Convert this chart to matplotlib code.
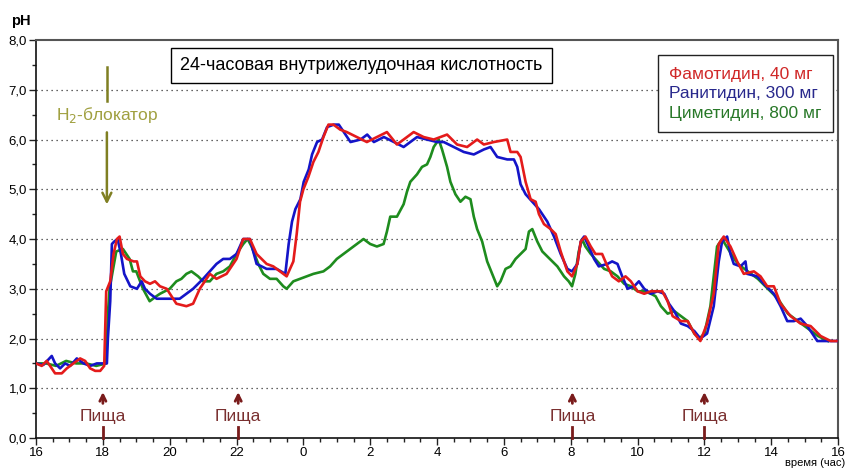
import matplotlib
matplotlib.use("Agg")
import matplotlib.pyplot as plt
import numpy as np

plt.rcParams['font.family'] = ['Liberation Sans', 'DejaVu Sans']

# hours since 16:00, pH
famotidine = np.array([
    (0.0, 1.5), (0.17, 1.45), (0.32, 1.55), (0.42, 1.45), (0.57, 1.3), (0.77, 1.3),
    (0.92, 1.4), (1.12, 1.5), (1.32, 1.6), (1.47, 1.55), (1.62, 1.4), (1.77, 1.35),
    (1.92, 1.35), (2.04, 1.45), (2.1, 2.95), (2.22, 3.15), (2.32, 3.7), (2.42, 4.0),
    (2.5, 4.05), (2.6, 3.7), (2.72, 3.6), (2.92, 3.55), (3.02, 3.55), (3.12, 3.25),
    (3.26, 3.15), (3.41, 3.1), (3.56, 3.15), (3.71, 3.05), (3.91, 3.0), (4.2, 2.7),
    (4.5, 2.65), (4.7, 2.7), (4.9, 3.0), (5.2, 3.3), (5.4, 3.2), (5.7, 3.3),
    (6.0, 3.6), (6.2, 4.0), (6.4, 4.0), (6.6, 3.7), (6.9, 3.5), (7.1, 3.45),
    (7.3, 3.35), (7.5, 3.25), (7.7, 3.55), (7.8, 4.1), (7.9, 4.75), (8.0, 5.0),
    (8.15, 5.25), (8.3, 5.55), (8.45, 5.75), (8.6, 6.05), (8.75, 6.3), (8.9, 6.3),
    (9.1, 6.2), (9.3, 6.15), (9.6, 6.05), (9.9, 5.95), (10.2, 6.05), (10.5, 6.15),
    (10.8, 5.9), (11.1, 6.05), (11.3, 6.15), (11.6, 6.05), (11.9, 6.0), (12.3, 6.1),
    (12.6, 5.9), (12.9, 5.85), (13.2, 6.0), (13.4, 5.9), (13.7, 5.95), (14.1, 6.0),
    (14.2, 5.75), (14.4, 5.75), (14.5, 5.65), (14.65, 5.15), (14.8, 4.8), (14.95, 4.75),
    (15.05, 4.5), (15.2, 4.3), (15.4, 4.2), (15.55, 4.1), (15.7, 3.75), (15.9, 3.35),
    (16.04, 3.25), (16.2, 3.5), (16.3, 3.95), (16.44, 4.05), (16.6, 3.85), (16.74, 3.7),
    (16.94, 3.7), (17.1, 3.45), (17.24, 3.25), (17.44, 3.15), (17.64, 3.25), (17.8, 3.15),
    (18.0, 2.95), (18.2, 2.9), (18.4, 2.95), (18.6, 2.95), (18.74, 2.95), (18.9, 2.75),
    (19.05, 2.45), (19.3, 2.35), (19.5, 2.35), (19.7, 2.1), (19.88, 1.95), (20.08, 2.3),
    (20.28, 2.9), (20.43, 3.9), (20.58, 4.05), (20.78, 3.85), (20.98, 3.55), (21.18, 3.3),
    (21.48, 3.35), (21.68, 3.25), (21.88, 3.05), (22.08, 3.05), (22.28, 2.7), (22.58, 2.45),
    (22.88, 2.3), (23.18, 2.25), (23.48, 2.05), (23.78, 1.95), (23.95, 1.95),
])

ranitidine = np.array([
    (0.0, 1.5), (0.22, 1.47), (0.47, 1.65), (0.57, 1.5), (0.72, 1.4), (0.87, 1.5),
    (1.02, 1.45), (1.22, 1.6), (1.42, 1.5), (1.62, 1.45), (1.82, 1.5), (2.12, 1.5),
    (2.15, 2.0), (2.22, 2.75), (2.27, 3.9), (2.34, 3.95), (2.44, 4.0), (2.54, 3.7),
    (2.64, 3.3), (2.82, 3.05), (3.02, 3.0), (3.16, 3.15), (3.26, 3.0), (3.41, 2.9),
    (3.61, 2.8), (3.91, 2.8), (4.3, 2.8), (4.5, 2.9), (4.7, 3.0), (5.0, 3.2),
    (5.4, 3.5), (5.6, 3.6), (5.8, 3.6), (6.0, 3.7), (6.2, 4.0), (6.4, 4.0),
    (6.6, 3.5), (6.9, 3.4), (7.2, 3.4), (7.46, 3.3), (7.56, 3.9), (7.66, 4.35),
    (7.76, 4.6), (7.91, 4.8), (8.01, 5.15), (8.16, 5.4), (8.26, 5.7), (8.41, 5.95),
    (8.56, 6.0), (8.71, 6.25), (8.91, 6.3), (9.06, 6.3), (9.21, 6.15), (9.41, 5.95),
    (9.71, 6.0), (9.91, 6.1), (10.11, 5.95), (10.41, 6.05), (10.71, 5.95), (11.0, 5.85),
    (11.2, 5.95), (11.4, 6.05), (11.7, 6.0), (12.0, 5.95), (12.2, 5.95), (12.5, 5.85),
    (12.8, 5.75), (13.1, 5.7), (13.4, 5.8), (13.6, 5.85), (13.8, 5.65), (14.1, 5.6),
    (14.3, 5.6), (14.4, 5.45), (14.5, 5.1), (14.65, 4.9), (14.85, 4.75), (15.05, 4.6),
    (15.3, 4.35), (15.5, 4.05), (15.7, 3.7), (15.9, 3.4), (16.04, 3.35), (16.2, 3.5),
    (16.3, 3.95), (16.4, 4.05), (16.54, 3.85), (16.7, 3.6), (16.84, 3.45), (17.1, 3.5),
    (17.24, 3.55), (17.4, 3.5), (17.54, 3.25), (17.7, 3.0), (17.9, 3.05), (18.04, 3.15),
    (18.2, 3.0), (18.4, 2.9), (18.6, 2.95), (18.8, 2.9), (18.94, 2.7), (19.1, 2.55),
    (19.3, 2.3), (19.5, 2.25), (19.7, 2.15), (19.88, 2.0), (20.08, 2.1), (20.28, 2.65),
    (20.43, 3.55), (20.53, 3.95), (20.68, 4.05), (20.78, 3.7), (20.88, 3.5), (21.08, 3.45),
    (21.23, 3.55), (21.28, 3.3), (21.58, 3.25), (21.78, 3.1), (22.08, 2.9), (22.28, 2.65),
    (22.48, 2.35), (22.68, 2.35), (22.88, 2.4), (23.08, 2.25), (23.38, 1.95), (23.68, 1.95),
    (23.98, 1.95),
])

cimetidine = np.array([
    (0.0, 1.5), (0.3, 1.5), (0.6, 1.45), (0.9, 1.55), (1.2, 1.5), (1.5, 1.5),
    (1.8, 1.45), (2.1, 1.5), (2.15, 2.5), (2.2, 3.0), (2.4, 3.75), (2.6, 3.8),
    (2.8, 3.6), (2.9, 3.35), (3.0, 3.35), (3.2, 3.0), (3.4, 2.75), (3.6, 2.85),
    (3.71, 2.9), (4.0, 3.0), (4.2, 3.15), (4.35, 3.2), (4.5, 3.3), (4.65, 3.35),
    (4.85, 3.25), (5.0, 3.15), (5.2, 3.15), (5.4, 3.3), (5.6, 3.35), (5.8, 3.45),
    (6.0, 3.7), (6.2, 3.9), (6.33, 4.0), (6.45, 3.85), (6.65, 3.5), (6.8, 3.3),
    (7.0, 3.2), (7.2, 3.2), (7.4, 3.05), (7.5, 3.0), (7.7, 3.15), (7.9, 3.2),
    (8.1, 3.25), (8.3, 3.3), (8.6, 3.35), (8.8, 3.45), (9.0, 3.6), (9.2, 3.7),
    (9.4, 3.8), (9.6, 3.9), (9.8, 4.0), (10.0, 3.9), (10.2, 3.85), (10.4, 3.9),
    (10.5, 4.15), (10.6, 4.45), (10.8, 4.45), (11.0, 4.7), (11.1, 4.95), (11.2, 5.15),
    (11.4, 5.3), (11.55, 5.45), (11.7, 5.5), (11.8, 5.65), (11.9, 5.85), (12.05, 6.0),
    (12.15, 5.8), (12.3, 5.45), (12.4, 5.15), (12.55, 4.9), (12.7, 4.75), (12.85, 4.85),
    (13.0, 4.8), (13.1, 4.45), (13.2, 4.2), (13.35, 3.95), (13.5, 3.55), (13.65, 3.3),
    (13.8, 3.05), (13.9, 3.15), (14.05, 3.4), (14.2, 3.45), (14.35, 3.6), (14.5, 3.7),
    (14.65, 3.8), (14.75, 4.15), (14.85, 4.2), (15.0, 3.95), (15.15, 3.75), (15.3, 3.65),
    (15.6, 3.45), (15.8, 3.25), (15.94, 3.15), (16.04, 3.05), (16.14, 3.3), (16.24, 3.75),
    (16.34, 4.0), (16.44, 3.85), (16.6, 3.7), (16.8, 3.55), (17.0, 3.4), (17.2, 3.35),
    (17.4, 3.25), (17.6, 3.1), (17.8, 3.05), (18.0, 2.95), (18.2, 2.95), (18.4, 2.9),
    (18.54, 2.85), (18.7, 2.65), (18.9, 2.5), (19.1, 2.55), (19.3, 2.45), (19.5, 2.35),
    (19.7, 2.1), (19.85, 2.0), (20.0, 2.1), (20.18, 2.65), (20.38, 3.85), (20.53, 4.0),
    (20.8, 3.7), (21.0, 3.5), (21.3, 3.35), (21.6, 3.2), (21.9, 3.0), (22.2, 2.8),
    (22.5, 2.5), (22.8, 2.35), (23.1, 2.2), (23.4, 2.05), (23.7, 1.95),
])

hour_ticks = np.arange(0, 25, 2)
hour_labels = ['16', '18', '20', '22', '0', '2', '4', '6', '8', '10', '12', '14', '16']
ph_ticks = np.arange(0, 9, 1)
ph_labels = ['0,0', '1,0', '2,0', '3,0', '4,0', '5,0', '6,0', '7,0', '8,0']
meal_times = [2.0, 6.05, 16.05, 20.0]   # 18, 22, 8, 12 h
blocker_time = 2.12

series_labels = ['Фамотидин, 40 мг', 'Ранитидин, 300 мг', 'Циметидин, 800 мг']
line_colors = ['#e41b1b', '#1414c8', '#1e8c1e']
text_colors = ['#d02828', '#28288c', '#287828']

fig = plt.figure(figsize=(8.46, 4.71), dpi=100)
ax = fig.add_axes([0.0426, 0.070, 0.948, 0.845])

l_cim, = ax.plot(cimetidine[:, 0], cimetidine[:, 1], color=line_colors[2], lw=1.9, zorder=3)
l_ran, = ax.plot(ranitidine[:, 0], ranitidine[:, 1], color=line_colors[1], lw=1.9, zorder=4)
l_fam, = ax.plot(famotidine[:, 0], famotidine[:, 1], color=line_colors[0], lw=1.9, zorder=5)

ax.set_xlim(0, 24)
ax.set_ylim(0, 8)
ax.set_xticks(hour_ticks)
ax.set_xticklabels(hour_labels)
ax.set_xticks(np.arange(0, 24.01, 0.5), minor=True)
ax.set_yticks(ph_ticks)
ax.set_yticklabels(ph_labels)
ax.set_yticks(np.arange(0, 8.01, 0.5), minor=True)
ax.tick_params(axis='both', which='major', direction='out', length=5, width=1,
               labelsize=9.5, pad=1.5, color='#222222')
ax.tick_params(axis='both', which='minor', direction='out', length=3, width=1, color='#222222')

for y in range(1, 8):
    ax.axhline(y, color='#333333', lw=0.9, ls=(0, (1, 3)), zorder=1)

for side in ['left', 'bottom']:
    ax.spines[side].set_color('#111111')
    ax.spines[side].set_linewidth(1.2)
for side in ['top', 'right']:
    ax.spines[side].set_color('#555555')
    ax.spines[side].set_linewidth(1.5)

fig.text(0.013, 0.955, 'pH', fontsize=10.5, fontweight='bold', ha='left', va='center')
fig.text(0.999, 0.016, 'время (час)', fontsize=8, ha='right', va='center')

ax.text(0.406, 0.937, '24-часовая внутрижелудочная кислотность', transform=ax.transAxes,
        fontsize=13, ha='center', va='center', zorder=6,
        bbox=dict(boxstyle='square,pad=0.5', facecolor='white', edgecolor='black', lw=1))

leg = ax.legend([l_fam, l_ran, l_cim], series_labels, loc='upper right',
                bbox_to_anchor=(0.9938, 0.962), borderaxespad=0, handlelength=0,
                handletextpad=0, fontsize=12.5, labelcolor=text_colors,
                fancybox=False, framealpha=1, edgecolor='#222222',
                labelspacing=0.25, borderpad=0.65)
for h in leg.legend_handles:
    h.set_visible(False)
leg.get_frame().set_linewidth(1)

# meal markers
meal_color = '#7a1c1c'
for t in meal_times:
    ax.plot([t, t], [0, 0.22], color=meal_color, lw=2, zorder=6, clip_on=False)
    ax.annotate('', xy=(t, 0.98), xytext=(t, 0.64),
                arrowprops=dict(arrowstyle='->', color=meal_color, lw=2, mutation_scale=11))
    ax.text(t, 0.44, 'Пища', color='#7a3030', fontsize=12.5, ha='center', va='center')

# H2 blocker marker
blk_color = '#7f7f22'
ax.plot([blocker_time, blocker_time], [7.46, 6.78], color=blk_color, lw=1.8)
ax.annotate('', xy=(blocker_time, 4.64), xytext=(blocker_time, 6.2),
            arrowprops=dict(arrowstyle='->', color=blk_color, lw=1.8, mutation_scale=16))
ax.text(blocker_time, 6.5, 'H$_2$-блокатор', color='#a0a040', fontsize=12.5,
        ha='center', va='center')

fig.savefig('out.png', dpi=100)
